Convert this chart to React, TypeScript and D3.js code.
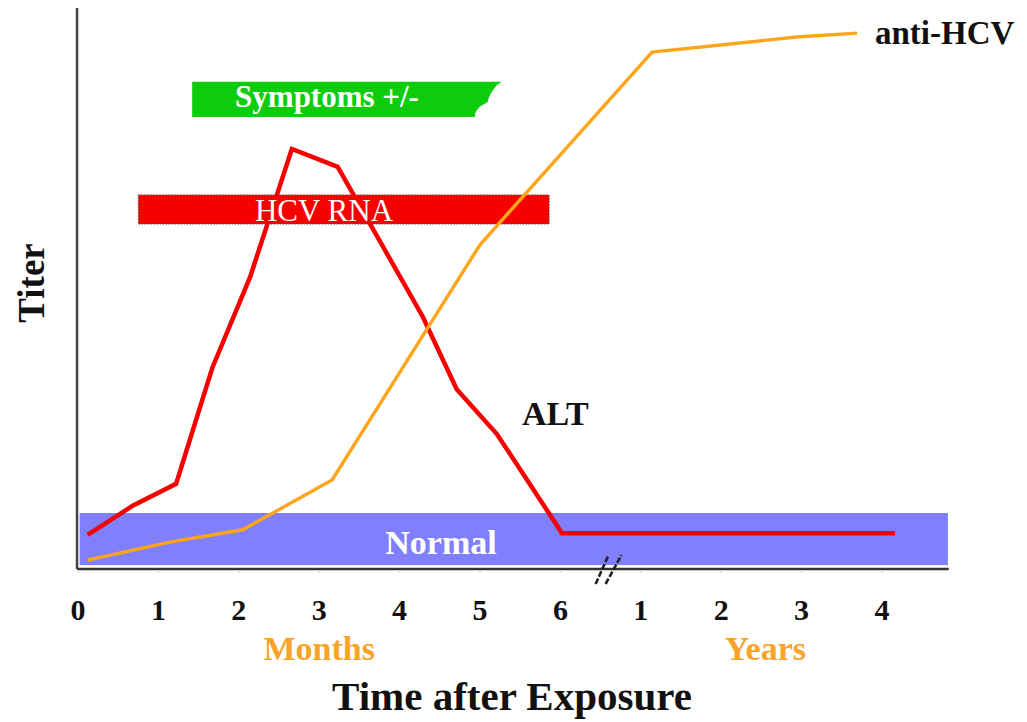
import React from "react";
import * as d3 from "d3";

// x is an index: 0..6 = months, 7..10 = years 1..4
const tickIndex = [0, 1, 2, 3, 4, 5, 6, 7, 8, 9, 10];
const tickLabels = ["0", "1", "2", "3", "4", "5", "6", "1", "2", "3", "4"];

// ALT titer (arbitrary units 0..100)
const altX = [0.12, 0.68, 1.22, 1.67, 2.14, 2.66, 3.23, 4.29, 4.71, 5.21, 6.02, 10.16];
const altY = [6.1, 11.3, 15.2, 35.9, 52.1, 75.0, 71.8, 45.0, 32.1, 24.1, 6.4, 6.4];

// anti-HCV titer
const hcvX = [0.12, 1.14, 2.05, 3.16, 5.0, 7.14, 8.94, 9.69];
const hcvY = [1.6, 4.8, 7.0, 15.9, 57.9, 92.3, 95.0, 95.7];

// ranges: [xStart, xEnd, yLow, yHigh]
const symptomsRange = [1.42, 5.27, 80.7, 87.0];
const rnaRange = [0.75, 5.86, 61.6, 66.8];
const normalRange = [0.02, 10.82, 0.7, 10.0];

const W = 1027;
const H = 722;
const FONT = "'Liberation Serif', 'Times New Roman', Times, serif";

export default function App() {
  const x = d3.scaleLinear().domain([0, 10]).range([78, 882]);
  const y = d3.scaleLinear().domain([0, 100]).range([569, 9]);

  const line = d3
    .line<[number, number]>()
    .x((d) => x(d[0]))
    .y((d) => y(d[1]));

  const altPts: [number, number][] = altX.map((v, i) => [v, altY[i]]);
  const hcvPts: [number, number][] = hcvX.map((v, i) => [v, hcvY[i]]);

  const axisY = y(0);
  const axisLeft = x(-0.012);
  const axisRight = x(10.83);
  const axisTop = y(100.2);

  // Symptoms bar with ragged right edge
  const sx0 = x(symptomsRange[0]);
  const sx1 = x(symptomsRange[1]);
  const sTop = y(symptomsRange[3]);
  const sBot = y(symptomsRange[2]);
  const sh = sBot - sTop;
  const ragged: [number, number][] = [
    [0, 0],
    [-5, 0.1],
    [-10, 0.28],
    [-13, 0.45],
    [-14, 0.57],
    [-22, 0.71],
    [-26, 0.85],
    [-27, 1],
  ];
  const symPath =
    `M${sx0},${sTop} ` +
    ragged.map(([dx, f]) => `L${sx1 + dx},${sTop + f * sh}`).join(" ") +
    ` L${sx0},${sBot} Z`;

  const rx0 = x(rnaRange[0]);
  const rx1 = x(rnaRange[1]);
  const rTop = y(rnaRange[3]);
  const rBot = y(rnaRange[2]);

  const nx0 = x(normalRange[0]);
  const nx1 = x(normalRange[1]);
  const nTop = y(normalRange[3]);
  const nBot = y(normalRange[2]);

  const breakX = (x(6) + x(7)) / 2 + 5;

  return (
    <svg
      width={W}
      height={H}
      style={{ position: "absolute", left: 0, top: 0, background: "#fff" }}
      fontFamily={FONT}
    >
      {/* Normal band */}
      <rect x={nx0} y={nTop} width={nx1 - nx0} height={nBot - nTop} fill="#8080ff" />
      <text
        x={441}
        y={554}
        textAnchor="middle"
        fill="#ffffff"
        fontSize={34}
        fontWeight="bold"
      >
        Normal
      </text>

      {/* Symptoms bar */}
      <path d={symPath} fill="#0ccc0c" />
      <text
        x={327}
        y={sTop + 25}
        textAnchor="middle"
        fill="#ffffff"
        fontSize={31}
        fontWeight="bold"
      >
        Symptoms +/-
      </text>

      {/* ALT line */}
      <path
        d={line(altPts) || ""}
        fill="none"
        stroke="#f80000"
        strokeWidth={4.5}
        strokeLinejoin="miter"
      />

      {/* HCV RNA bar */}
      <rect
        x={rx0}
        y={rTop}
        width={rx1 - rx0}
        height={rBot - rTop}
        fill="#f80000"
        stroke="#555"
        strokeWidth={1}
        strokeDasharray="1.5,1.5"
      />
      <text
        x={324}
        y={rBot - 3}
        textAnchor="middle"
        fill="#ffffff"
        fontSize={31}
      >
        HCV RNA
      </text>

      {/* anti-HCV line */}
      <path
        d={line(hcvPts) || ""}
        fill="none"
        stroke="#ffa51a"
        strokeWidth={3.4}
      />

      {/* Axes */}
      <line x1={axisLeft} y1={axisY} x2={axisRight} y2={axisY} stroke="#333" strokeWidth={2.5} />
      <line x1={axisLeft} y1={axisY} x2={axisLeft} y2={axisTop} stroke="#444" strokeWidth={2.5} />
      {tickIndex.map((t) => (
        <line
          key={"tk" + t}
          x1={x(t)}
          x2={x(t)}
          y1={axisY + 1}
          y2={axisY + 4}
          stroke="#d8d8d8"
          strokeWidth={1.5}
        />
      ))}

      {/* axis break */}
      <g stroke="#222" strokeWidth={2.6} strokeDasharray="6,2">
        <line x1={breakX - 10} y1={584} x2={breakX + 3} y2={555} />
        <line x1={breakX} y1={584} x2={breakX + 16} y2={555} />
      </g>

      {/* tick labels */}
      {tickIndex.map((t, i) => (
        <text
          key={"tl" + t}
          x={x(t)}
          y={620}
          textAnchor="middle"
          fontSize={30}
          fontWeight="bold"
          fill="#111"
        >
          {tickLabels[i]}
        </text>
      ))}

      <text x={x(3)} y={660} textAnchor="middle" fontSize={34} fontWeight="bold" fill="#f9a328">
        Months
      </text>
      <text x={x(8.55)} y={660} textAnchor="middle" fontSize={34} fontWeight="bold" fill="#f9a328">
        Years
      </text>
      <text x={512} y={710} textAnchor="middle" fontSize={41} fontWeight="bold" fill="#111">
        Time after Exposure
      </text>
      <text
        transform="translate(44,283) rotate(-90)"
        textAnchor="middle"
        fontSize={37}
        fontWeight="bold"
        fill="#111"
      >
        Titer
      </text>

      {/* series labels */}
      <text x={522} y={425} fontSize={34} fontWeight="bold" fill="#111">
        ALT
      </text>
      <text x={875} y={44} fontSize={33} fontWeight="bold" fill="#111">
        anti-HCV
      </text>
    </svg>
  );
}
